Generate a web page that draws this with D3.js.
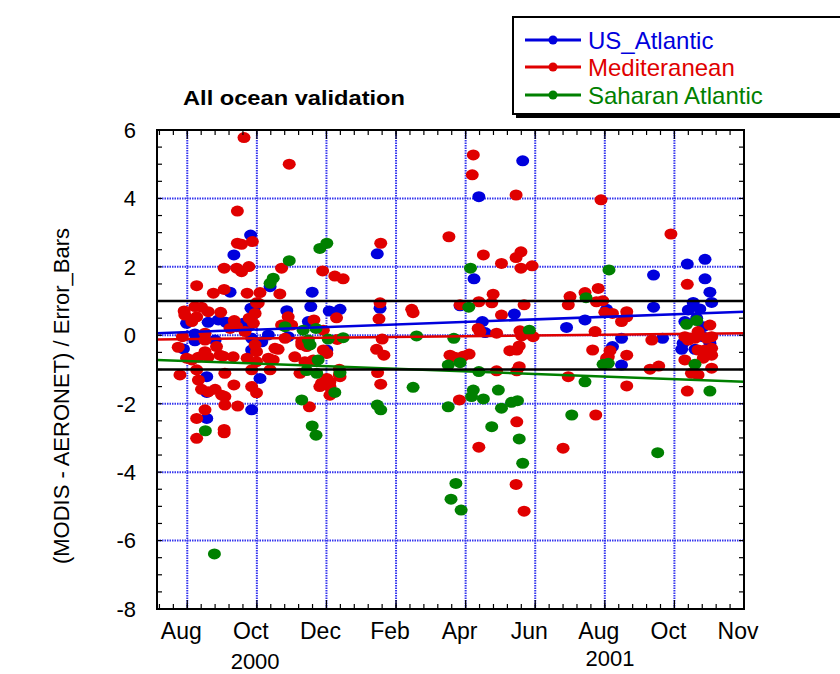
<!DOCTYPE html>
<html>
<head>
<meta charset="utf-8">
<script src="https://cdn.jsdelivr.net/npm/d3@7"></script>
<style>
  body { margin: 0; background: #fff; }
  svg { display: block; font-family: "Liberation Sans", Arial, sans-serif; }
</style>
</head>
<body>
<svg id="chart" width="840" height="674"></svg>
<script>
// x values are months counted from 1 Aug 2000; y values are (MODIS - AERONET) / error bar
const monthTicks  = [0, 2, 4, 6, 8, 10, 12, 14, 16];
const monthLabels = ["Aug", "Oct", "Dec", "Feb", "Apr", "Jun", "Aug", "Oct", "Nov"];
const yearTicks   = [1.95, 12.15];
const yearLabels  = ["2000", "2001"];
const yTicks      = [-8, -6, -4, -2, 0, 2, 4, 6];
const refLines    = [1, -1];

const seriesNames  = ["US_Atlantic", "Mediteranean", "Saharan Atlantic"];
const seriesColors = ["#0000dd", "#e00000", "#008000"];

const usAtlantic = [
  [1.82,2.93],[1.34,2.35],[1.23,1.26],[3.59,1.26],[2.38,1.42],[1.93,0.82],[2.86,0.72],
  [-0.02,0.35],[0.60,0.38],[0.89,0.45],[1.11,0.38],[1.61,0.35],[1.75,0.25],[0.22,0.04],
  [0.22,-0.16],[0.80,-0.14],[1.85,-0.09],[1.95,-0.19],[2.14,-0.19],[2.33,0.01],[1.85,-0.43],
  [2.90,-0.04],[-0.11,-0.40],[2.09,-1.26],[0.56,-1.21],[0.56,-1.67],[1.85,-2.18],[0.56,-2.43],
  [3.55,0.84],[3.48,0.40],[4.08,0.71],[4.39,0.76],[5.54,0.79],[4.01,-0.43],[9.64,5.10],
  [8.38,4.05],[5.46,2.38],[8.24,1.65],[7.84,0.86],[9.40,0.62],[8.48,0.40],[10.90,0.23],
  [8.56,0.08],[11.43,0.45],[14.88,2.22],[14.37,2.08],[13.40,1.76],[14.88,1.65],[15.02,1.26],
  [14.54,0.96],[15.07,0.96],[14.40,0.74],[14.73,0.77],[13.40,0.82],[12.05,0.76],[12.48,-0.09],
  [13.66,-0.09],[14.30,0.40],[14.64,0.50],[14.83,0.25],[14.25,-0.23],[15.02,-0.23],[12.22,-0.33],
  [14.21,-0.41],[14.59,-0.41],[12.48,-0.87],[14.81,-0.04],[1.83,0.79]
];

const mediterranean = [
  [1.63,5.78],[2.93,5.00],[1.44,3.63],[1.44,2.69],[1.56,2.66],[1.87,2.74],[1.06,1.96],
  [1.42,1.96],[1.56,1.86],[1.77,2.01],[2.71,1.96],[3.89,1.88],[4.24,1.73],[4.48,1.65],
  [0.27,1.45],[0.75,1.23],[1.06,1.34],[1.72,1.23],[2.09,1.25],[2.66,1.21],[1.99,0.95],
  [-0.07,0.59],[-0.09,0.71],[0.22,0.84],[0.27,0.54],[0.41,0.82],[0.60,0.69],[0.13,0.40],
  [0.96,0.67],[1.35,0.43],[1.23,0.20],[1.42,0.25],[1.78,0.50],[1.95,0.64],[2.04,0.94],
  [1.90,0.35],[1.66,0.11],[2.90,0.54],[2.71,0.30],[3.00,0.30],[-0.14,-0.04],[0.51,0.06],
  [0.51,-0.14],[0.84,-0.33],[-0.26,-0.35],[0.51,-0.48],[-0.02,-0.67],[0.13,-0.72],[0.32,-0.64],
  [0.60,-0.64],[0.94,-0.58],[1.03,-0.61],[1.32,-0.63],[1.72,-0.67],[1.95,-0.28],[1.99,-0.48],
  [2.33,-0.67],[2.47,-0.72],[1.99,-0.77],[2.52,-0.38],[2.61,-0.41],[3.09,-0.63],[2.81,-0.09],
  [3.29,-0.28],[3.24,-1.11],[-0.21,-1.16],[0.27,-1.01],[1.08,-1.11],[0.32,-1.31],[1.34,-1.45],
  [1.85,-1.01],[2.38,-1.01],[1.85,-1.50],[1.99,-1.68],[0.41,-1.58],[0.60,-1.65],[0.80,-1.58],
  [0.99,-1.75],[1.08,-1.79],[1.08,-2.04],[1.45,-2.07],[0.51,-2.18],[0.27,-2.43],[1.06,-2.75],
  [1.06,-2.85],[0.27,-3.01],[3.51,-2.09],[4.10,-1.75],[3.86,-1.40],[4.01,-1.26],[4.10,-1.36],
  [4.39,-1.21],[3.64,0.45],[4.29,0.51],[3.91,0.15],[3.29,-0.19],[3.43,-0.33],[4.31,-0.12],
  [3.91,-0.43],[4.01,-0.53],[3.38,-0.77],[3.62,-0.72],[4.37,-0.99],[4.37,-1.16],[3.81,-1.50],
  [4.10,-1.50],[5.54,0.95],[6.45,0.76],[6.49,0.66],[5.51,0.48],[5.60,-0.11],[5.44,-0.41],
  [5.65,-0.58],[5.47,-1.09],[5.56,-1.43],[5.56,2.69],[7.52,2.88],[8.22,5.27],[8.19,4.69],
  [9.45,4.10],[8.51,2.35],[9.03,2.10],[9.45,2.27],[9.59,2.44],[9.59,1.96],[9.91,2.03],
  [8.79,1.20],[8.75,0.95],[8.38,0.98],[7.84,0.89],[9.68,0.89],[9.03,0.59],[8.36,0.20],
  [8.41,0.11],[8.89,0.06],[9.56,0.13],[9.61,-0.02],[9.85,0.04],[9.94,-0.04],[7.55,-0.58],
  [7.69,-0.64],[7.93,-0.61],[8.10,-0.55],[9.27,-0.45],[9.47,-0.43],[9.54,-0.31],[8.89,-1.04],
  [9.47,-1.04],[9.54,-0.92],[7.82,-1.89],[9.47,-2.53],[8.38,-3.27],[9.45,-4.36],[9.68,-5.14],
  [11.00,1.13],[10.95,0.89],[11.43,1.25],[11.81,1.37],[11.76,0.98],[11.72,0.11],[11.65,-0.43],
  [10.95,-1.21],[11.74,-2.33],[10.80,-3.30],[11.89,3.96],[13.90,2.96],[14.37,1.49],[11.94,1.01],
  [12.00,0.67],[12.22,0.64],[12.63,0.69],[12.63,0.54],[12.48,0.40],[12.15,-0.45],[12.10,-0.63],
  [12.63,-0.58],[12.05,-0.67],[13.35,-0.14],[15.02,0.30],[14.68,0.11],[14.30,-0.04],[14.40,-0.14],
  [14.59,-0.09],[14.93,-0.09],[15.07,-0.04],[14.68,-0.43],[14.88,-0.43],[15.07,-0.38],[14.83,-0.67],
  [15.07,-0.58],[14.30,-0.72],[13.30,-0.99],[13.55,-0.90],[15.07,-0.96],[14.49,-1.11],[14.68,-1.16],
  [12.63,-1.48],[14.37,-1.63]
];

const saharanAtlantic = [
  [2.93,2.18],[3.81,2.54],[4.01,2.69],[2.38,1.52],[2.47,1.67],[2.81,0.25],[3.33,0.15],
  [3.70,0.20],[3.29,-1.89],[0.52,-2.79],[0.78,-6.39],[3.59,-2.65],[3.70,-2.92],[3.76,-0.72],
  [3.72,-1.11],[3.43,-1.03],[4.24,-1.67],[4.39,-1.09],[3.48,-0.14],[3.53,-0.28],[4.05,-0.11],
  [4.48,-0.07],[6.59,-0.02],[6.49,-1.52],[5.46,-2.04],[5.56,-2.18],[7.50,-2.09],[7.50,-0.87],
  [7.84,-0.80],[8.14,1.96],[8.09,0.82],[9.83,0.15],[7.66,-0.09],[8.38,-1.06],[8.22,-1.60],
  [8.17,-1.79],[8.51,-1.86],[8.94,-1.60],[9.03,-2.13],[9.32,-1.96],[9.49,-1.91],[8.75,-2.67],
  [9.54,-3.03],[9.64,-3.74],[7.72,-4.33],[7.58,-4.79],[7.87,-5.11],[11.43,-1.36],[11.05,-2.33],
  [12.12,1.91],[11.46,1.10],[14.35,0.32],[14.64,0.43],[11.95,-0.85],[12.10,-0.82],[14.59,-0.85],
  [15.02,-1.63],[13.52,-3.43]
];

// least-squares trend for each region: [intercept at 1 Aug 2000, slope per month]
const fitIntercepts = [0.092, -0.111, -0.753];
const fitSlopes     = [0.0373, 0.0107, -0.0379];

const plot = { left: 157, right: 744, top: 130, bottom: 609 };

const x = d3.scaleLinear().domain([-0.87, 16]).range([plot.left, plot.right]);
const y = d3.scaleLinear().domain([-8, 6]).range([plot.bottom, plot.top]);

const svg = d3.select("#chart");

// grid
const grid = svg.append("g")
  .attr("stroke", "#3535ee").attr("stroke-width", 2).attr("stroke-dasharray", "1.5,1");
grid.selectAll("line.v").data(monthTicks.slice(0, -1)).join("line")
  .attr("x1", d => x(d)).attr("x2", d => x(d))
  .attr("y1", plot.top).attr("y2", plot.bottom);
grid.selectAll("line.h").data(yTicks.slice(1, -1)).join("line")
  .attr("y1", d => y(d)).attr("y2", d => y(d))
  .attr("x1", plot.left).attr("x2", plot.right);

// points
const allSeries = [usAtlantic, mediterranean, saharanAtlantic];
svg.append("clipPath").attr("id", "plotclip").append("rect")
  .attr("x", plot.left).attr("y", plot.top)
  .attr("width", plot.right - plot.left).attr("height", plot.bottom - plot.top);

const pts = svg.append("g").attr("clip-path", "url(#plotclip)");
allSeries.forEach((s, i) => {
  pts.append("g").attr("fill", seriesColors[i])
    .selectAll("ellipse").data(s).join("ellipse")
    .attr("cx", d => x(d[0])).attr("cy", d => y(d[1]))
    .attr("rx", 6.5).attr("ry", 5.5);
});

// trend lines
const xd = x.domain();
fitSlopes.forEach((m, i) => {
  const b = fitIntercepts[i];
  svg.append("line")
    .attr("x1", x(xd[0])).attr("y1", y(b + m * xd[0]))
    .attr("x2", x(xd[1])).attr("y2", y(b + m * xd[1]))
    .attr("stroke", seriesColors[i]).attr("stroke-width", 2.5);
});

// +/- 1 reference lines
svg.selectAll("line.ref").data(refLines).join("line")
  .attr("x1", plot.left).attr("x2", plot.right)
  .attr("y1", d => y(d)).attr("y2", d => y(d))
  .attr("stroke", "#000").attr("stroke-width", 2.5);

// frame
svg.append("rect")
  .attr("x", plot.left).attr("y", plot.top)
  .attr("width", plot.right - plot.left).attr("height", plot.bottom - plot.top)
  .attr("fill", "none").attr("stroke", "#000").attr("stroke-width", 2);

// inward ticks on all four sides
const minorX = d3.range(-0.8, 16.01, 0.4);
const minorY = d3.range(-8, 6.01, 0.5);
const ticks = svg.append("g").attr("stroke", "#000").attr("stroke-width", 1.2);
ticks.selectAll("line.xb").data(minorX).join("line")
  .attr("x1", d => x(d)).attr("x2", d => x(d))
  .attr("y1", plot.bottom).attr("y2", plot.bottom - 5);
ticks.selectAll("line.xt").data(minorX).join("line")
  .attr("x1", d => x(d)).attr("x2", d => x(d))
  .attr("y1", plot.top).attr("y2", plot.top + 5);
ticks.selectAll("line.xbm").data(monthTicks).join("line")
  .attr("x1", d => x(d)).attr("x2", d => x(d))
  .attr("y1", plot.bottom).attr("y2", plot.bottom - 9);
ticks.selectAll("line.xtm").data(monthTicks).join("line")
  .attr("x1", d => x(d)).attr("x2", d => x(d))
  .attr("y1", plot.top).attr("y2", plot.top + 9);
ticks.selectAll("line.yl").data(minorY).join("line")
  .attr("y1", d => y(d)).attr("y2", d => y(d))
  .attr("x1", plot.left).attr("x2", plot.left + 5);
ticks.selectAll("line.yr").data(minorY).join("line")
  .attr("y1", d => y(d)).attr("y2", d => y(d))
  .attr("x1", plot.right).attr("x2", plot.right - 5);

// tick labels
svg.append("g").selectAll("text").data(yTicks).join("text")
  .attr("x", 136).attr("y", d => y(d)).attr("dy", "0.36em")
  .attr("text-anchor", "end").attr("font-size", 22).attr("fill", "#000")
  .text(d => d);

svg.append("g").selectAll("text").data(monthTicks).join("text")
  .attr("x", d => x(d) - 6).attr("y", 639)
  .attr("text-anchor", "middle").attr("font-size", 23).attr("fill", "#000")
  .text((d, i) => monthLabels[i]);

svg.append("g").selectAll("text").data(yearTicks).join("text")
  .attr("x", d => x(d)).attr("y", (d, i) => i === 0 ? 669 : 666)
  .attr("text-anchor", "middle").attr("font-size", 22).attr("fill", "#000")
  .text((d, i) => yearLabels[i]);

// axis title
svg.append("text")
  .attr("transform", "translate(69,396) rotate(-90)")
  .attr("text-anchor", "middle").attr("font-size", 22).attr("fill", "#000")
  .text("(MODIS - AERONET) / Error_Bars");

// chart title
svg.append("text")
  .attr("x", 183).attr("y", 105)
  .attr("font-size", 20).attr("font-weight", "bold").attr("fill", "#000")
  .attr("textLength", 222).attr("lengthAdjust", "spacingAndGlyphs")
  .text("All ocean validation");

// legend
const lg = svg.append("g");
lg.append("rect").attr("x", 516).attr("y", 20).attr("width", 340).attr("height", 98).attr("fill", "#000");
lg.append("rect").attr("x", 513).attr("y", 17).attr("width", 340).attr("height", 97)
  .attr("fill", "#fff").attr("stroke", "#000").attr("stroke-width", 2);
const rows = [40, 67, 95];
seriesNames.forEach((name, i) => {
  const g = lg.append("g");
  g.append("line").attr("x1", 525).attr("x2", 581).attr("y1", rows[i]).attr("y2", rows[i])
    .attr("stroke", seriesColors[i]).attr("stroke-width", 3);
  g.append("circle").attr("cx", 553).attr("cy", rows[i]).attr("r", 4.5).attr("fill", seriesColors[i]);
  g.append("text").attr("x", 588).attr("y", rows[i]).attr("dy", "0.36em")
    .attr("font-size", 24).attr("fill", seriesColors[i]).text(name);
});
</script>
</body>
</html>
